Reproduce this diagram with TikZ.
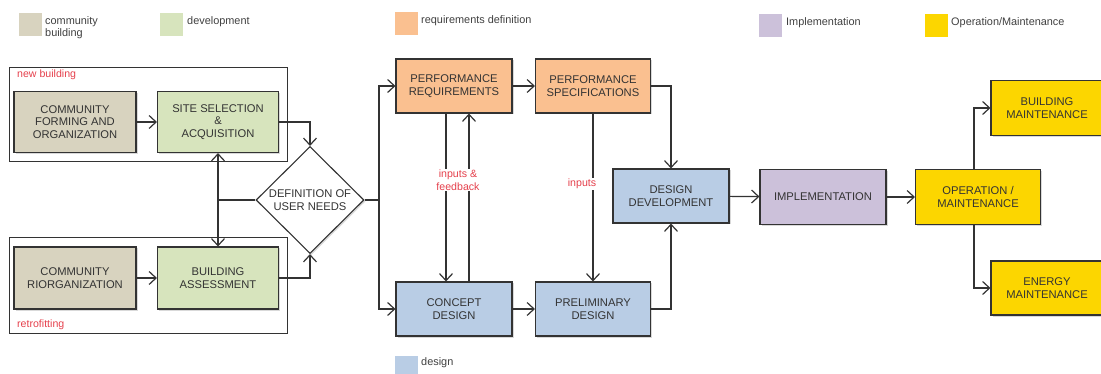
\documentclass[tikz,border=0pt]{standalone}
\usepackage{fontspec}
\setmainfont{Liberation Sans}
\usepackage{xcolor}
\usetikzlibrary{arrows.meta,shapes.geometric,shadows,positioning}

\definecolor{cbuild}{HTML}{D8D3BF}
\definecolor{cdevel}{HTML}{D7E4BD}
\definecolor{creq}{HTML}{FAC090}
\definecolor{cdesign}{HTML}{B9CDE5}
\definecolor{cimpl}{HTML}{CCC1DA}
\definecolor{coper}{HTML}{FCD600}
\definecolor{cline}{HTML}{333333}
\definecolor{clabel}{HTML}{E5404C}

\begin{document}
\begin{tikzpicture}[x=1pt,y=-1pt,
  box/.style={draw=cline,line width=1.1pt,align=center,inner sep=0pt,
    font=\fontsize{11.2}{12.8}\selectfont,text=cline,
    drop shadow={shadow xshift=1.5pt,shadow yshift=-1.5pt,opacity=.3}},
  swatch/.style={minimum width=23pt,minimum height=23pt,inner sep=0pt},
  legtext/.style={anchor=north west,inner sep=0pt,align=left,
    font=\fontsize{10.9}{12.8}\selectfont,text=black!75},
  redlabel/.style={inner sep=1pt,align=center,text=clabel,
    font=\fontsize{10.6}{12.5}\selectfont},
  conn/.style={draw=cline,line width=1.2pt},
  arr/.style={conn,-{Straight Barb[length=7pt,width=13pt,line width=1.2pt]}}]
\useasboundingbox (0,0) rectangle (1101,374);

% legend
\node[swatch,fill=cbuild]  (lcb)  at (30.5,24.5) {};
\node[legtext]             (tcb)  at (45,16)     {community\\building};
\node[swatch,fill=cdevel]  (ldev) at (171.5,24.5){};
\node[legtext]             (tdev) at (187,16)    {development};
\node[swatch,fill=creq]    (lreq) at (406,23.5)  {};
\node[legtext]             (treq) at (421,15)    {requirements definition};
\node[swatch,fill=cimpl]   (limp) at (770,26)    {};
\node[legtext]             (timp) at (786,17)    {Implementation};
\node[swatch,fill=coper]   (lopm) at (936.5,26)  {};
\node[legtext]             (topm) at (951,17)    {Operation/Maintenance};
\node[swatch,fill=cdesign,minimum height=18pt] (ldes) at (406,365) {};
\node[legtext]             (tdes) at (421,357)   {design};

% frames
\draw[conn,line width=1pt] (9,68) rectangle (287,162);
\node[redlabel,anchor=west] (nbl) at (16,75) {new building};
\draw[conn,line width=1pt] (9,238) rectangle (287,333);
\node[redlabel,anchor=west] (rfl) at (16,325) {retrofitting};

% boxes
\node[box,fill=cbuild,minimum width=122pt,minimum height=61pt] (cfo) at (75,122)
  {COMMUNITY\\FORMING AND\\ORGANIZATION};
\node[box,fill=cdevel,minimum width=121pt,minimum height=61pt] (ssa) at (218,122)
  {SITE SELECTION\\\&\\ACQUISITION};
\node[box,fill=cbuild,minimum width=122pt,minimum height=62pt] (cro) at (75,278)
  {COMMUNITY\\RIORGANIZATION};
\node[box,fill=cdevel,minimum width=121pt,minimum height=62pt] (bas) at (218,278)
  {BUILDING\\ASSESSMENT};
\node[box,shape=diamond,fill=white,minimum width=108pt,minimum height=107pt,
  drop shadow={opacity=0}] (dun) at (310,200) {DEFINITION OF\\USER NEEDS};

\node[box,fill=creq,minimum width=116pt,minimum height=54pt] (preq) at (454,86)
  {PERFORMANCE\\REQUIREMENTS};
\node[box,fill=creq,minimum width=115pt,minimum height=54pt] (pspec) at (593,86)
  {PERFORMANCE\\SPECIFICATIONS};
\node[box,fill=cdesign,minimum width=116pt,minimum height=54pt] (cdes) at (454,309)
  {CONCEPT\\DESIGN};
\node[box,fill=cdesign,minimum width=115pt,minimum height=54pt] (pdes) at (593,309)
  {PRELIMINARY\\DESIGN};
\node[box,fill=cdesign,minimum width=116pt,minimum height=54pt] (ddev) at (671,196)
  {DESIGN\\DEVELOPMENT};
\node[box,fill=cimpl,minimum width=126pt,minimum height=55pt] (impl) at (823,197)
  {IMPLEMENTATION};
\node[box,fill=coper,minimum width=125pt,minimum height=55pt] (opm) at (978,197)
  {OPERATION /\\MAINTENANCE};
\node[box,fill=coper,minimum width=112pt,minimum height=55pt] (bmnt) at (1047,108)
  {BUILDING\\MAINTENANCE};
\node[box,fill=coper,minimum width=112pt,minimum height=54pt] (emnt) at (1047,288)
  {ENERGY\\MAINTENANCE};

% connectors
\coordinate (jl) at (ssa.south |- dun.west);
\coordinate (jr) at (379,200);

\path[arr]
    (cfo) edge (ssa)
    (cro) edge (bas)
    (preq) edge (pspec)
    (cdes) edge (pdes)
    (ddev) edge (impl)
    (impl) edge (opm);

\draw[arr] (ssa.east) -| (dun.north);
\draw[arr] (bas.east) -| (dun.south);
\draw[conn] (dun.west) -- (jl);
\draw[arr] (jl) -- (ssa.south);
\draw[arr] (jl) -- (bas.north);
\draw[conn] (dun.east) -- (jr);
\draw[arr] (jr) |- (preq.west);
\draw[arr] (jr) |- (cdes.west);

\draw[arr] ([xshift=-8pt]preq.south) -- ([xshift=-8pt]cdes.north);
\draw[arr] ([xshift=15pt]cdes.north) -- ([xshift=15pt]preq.south);
\node[redlabel,fill=white] (ifb) at (458,180) {inputs \&\\feedback};
\draw[arr] (pspec.south) -- (pdes.north);
\node[redlabel,fill=white] (inp) at (582,184) {inputs};

\draw[arr] (pspec.east) -| (ddev.north);
\draw[arr] (pdes.east) -| (ddev.south);
\draw[arr] ([xshift=-4pt]opm.north) |- (bmnt.west);
\draw[arr] ([xshift=-4pt]opm.south) |- (emnt.west);
\end{tikzpicture}
\end{document}
